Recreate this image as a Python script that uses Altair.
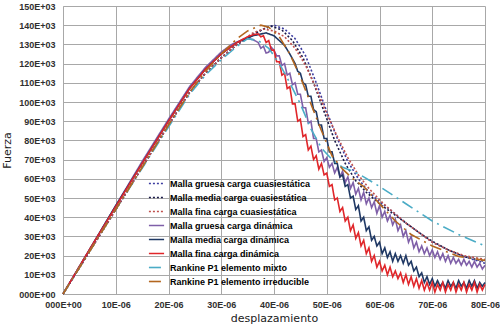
import altair as alt
import pandas as pd

# ---- data (x in 1E-06, y in 1E+03) ----
names = [
    "Malla gruesa carga cuasiestática",
    "Malla media carga cuasiestática",
    "Malla fina carga cuasiestática",
    "Malla gruesa carga dinámica",
    "Malla media carga dinámica",
    "Malla fina carga dinámica",
    "Rankine P1 elemento mixto",
    "Rankine P1 elemento irreducible",
]
colors = ["#3c3ca0", "#1a1a48", "#c0504d", "#7f5fa8", "#1f3864", "#e0262a", "#4bacc6", "#b3661e"]
dashes = [[2, 2], [2, 2], [2, 2], [1, 0], [1, 0], [1, 0], [12, 5, 2, 5], [12, 5, 2, 5]]
widths = [1.6, 1.6, 1.5, 1.3, 1.3, 1.6, 2.6, 2.6]

gc_x = [0, 5, 10, 15, 20, 24, 27, 30, 33, 36, 38, 40, 42, 44, 46, 48, 50, 52, 54, 56, 58, 60, 62, 65, 68, 70, 73, 76, 80]
gc_y = [0, 22, 44, 66, 88, 105, 115, 123, 130, 135, 138, 140, 138, 133, 124, 110, 95, 81, 69, 60, 53, 48, 44, 37, 31, 27, 23, 19.5, 16]

mc_x = [0, 5, 10, 15, 20, 24, 27, 30, 33, 36, 38, 39.5, 41.5, 43.5, 45.5, 47.5, 49.5, 51.5, 53.5, 55.5, 57.5, 60, 62, 65, 68, 70, 73, 76, 80]
mc_y = [0, 22, 44, 66, 88, 105, 115, 123, 130, 135, 138, 139.5, 137.5, 132, 123, 110, 95, 80, 68, 59, 53, 47, 43, 37, 31, 27.5, 23, 19.5, 17]

fc_x = [0, 5, 10, 15, 20, 24, 27, 30, 33, 36, 38, 40, 42, 44, 46, 48, 50, 52, 54, 56, 58, 60, 62, 65, 68, 70, 73, 76, 80]
fc_y = [0, 22, 44, 66, 88, 105, 115, 123, 130, 136, 138, 137, 134, 128, 119, 107, 94, 82, 71, 62, 55, 49, 44, 37, 31, 27, 23, 20, 18]

gd_x = [0, 5, 10, 15, 20, 24, 27, 30, 32, 34, 35, 36, 37, 37.5, 38, 38.5, 39, 39.5, 40, 40.5, 41, 41.5, 42, 42.5, 43, 43.5, 44, 44.5,
        45, 45.5, 46, 46.5, 47, 47.5, 48, 48.5, 49, 49.5, 50, 50.5, 51, 51.5, 52, 52.5, 53, 53.5, 54, 54.5, 55, 55.5,
        56, 56.5, 57, 57.5, 58, 58.5, 59, 59.5, 60, 60.5, 61, 61.5, 62, 62.5, 63, 63.5, 64, 64.5, 65, 65.5, 66, 66.5,
        67, 67.5, 68, 68.5, 69, 69.5, 70, 70.5, 71, 71.5, 72, 72.5, 73, 73.5, 74, 74.5, 75, 75.5, 76, 76.5, 77, 77.5,
        78, 78.5, 79, 79.5, 80]
gd_y = [0, 23, 46, 69, 91, 108, 118, 126, 130, 132.5, 133, 132.5, 131, 128, 129, 125.5, 126, 128.5, 127, 124, 124, 119, 120, 114, 115, 109, 110, 104,
        104, 97, 97, 89, 90, 81, 81, 74, 75, 69, 71, 66, 68, 63, 66, 61, 64, 58, 61, 55, 58, 52,
        55, 49, 53, 47, 50, 45, 48, 42, 46, 40, 43, 38, 41, 36, 39, 33, 36, 30, 33, 27, 30, 24,
        27, 22, 25, 21, 24, 20, 23, 19, 22, 18, 21, 17, 20, 16, 19, 16, 18, 15, 18, 15, 17, 14,
        17, 14, 16, 13, 15]

md_x = [0, 5, 10, 15, 20, 24, 27, 30, 33, 36, 38.5, 40, 42, 43, 44, 44.5, 45, 45.5, 46, 46.5, 47, 47.5, 48, 48.5, 49, 49.5,
        50, 50.5, 51, 51.5, 52, 52.5, 53, 53.5, 54, 54.5, 55, 55.5, 56, 56.5, 57, 57.5, 58, 58.5, 59, 59.5,
        60, 60.5, 61, 61.5, 62, 62.5, 63, 63.5, 64, 64.5, 65, 65.5, 66, 66.5, 67, 67.5, 68, 68.5, 69, 69.5,
        70, 70.5, 71, 71.5, 72, 72.5, 73, 73.5, 74, 74.5, 75, 75.5, 76, 76.5, 77, 77.5, 78, 78.5, 79, 79.5, 80]
md_y = [0, 23, 46, 68, 90, 107, 117, 125, 131, 134.5, 136, 134.5, 129.5, 125, 120, 116, 115, 110, 109, 103, 103, 96, 95, 88, 88, 81,
        81, 74, 74, 68, 68, 61, 62, 56, 57, 50, 51, 44, 46, 38, 40, 33, 35, 28, 30, 25,
        27, 21, 24, 19, 22, 17, 21, 17, 20, 16, 20, 15, 17, 12, 14, 9, 11, 6, 9, 5,
        8, 4, 7, 4, 6, 3, 7, 4, 6, 3, 7, 4, 6, 3, 7, 4, 7, 3, 6, 4, 6]

fd_x = [0, 5, 10, 15, 20, 24, 27, 30, 33, 35, 36, 37, 37.5, 38, 38.5, 39, 39.5, 40, 40.5, 41, 41.5, 42, 42.5, 43, 43.5, 44, 44.5,
        45, 45.5, 46, 46.5, 47, 47.5, 48, 48.5, 49, 49.5, 50, 50.5, 51, 51.5, 52, 52.5, 53, 53.5, 54, 54.5,
        55, 55.5, 56, 56.5, 57, 57.5, 58, 58.5, 59, 59.5, 60, 60.5, 61, 61.5, 62, 62.5, 63, 63.5, 64, 64.5,
        65, 65.5, 66, 66.5, 67, 67.5, 68, 68.5, 69, 69.5, 70, 70.5, 71, 71.5, 72, 72.5, 73, 73.5, 74, 74.5,
        75, 75.5, 76, 76.5, 77, 77.5, 78, 78.5, 79, 79.5, 80]
fd_y = [0, 23, 45.5, 68, 90, 107, 117, 125, 131, 134, 135, 135.5, 134, 134.5, 131, 132, 127, 127, 121, 121, 114, 115, 107, 108, 99, 99, 90,
        91, 82, 83, 75, 77, 70, 72, 65, 68, 62, 63, 56, 57, 49, 50, 43, 45, 38, 40, 33,
        36, 29, 32, 25, 28, 21, 24, 17, 20, 14, 17, 12, 15, 10, 14, 9, 12, 8, 11, 6,
        10, 5, 9, 4, 8, 3, 7, 2, 6, 2, 6, 1, 5, 2, 6, 1, 5, 2, 6, 1,
        5, 2, 6, 1, 5, 2, 6, 1, 5, 2, 5]

rm_x = [0, 5, 10, 15, 20, 24, 27, 30, 33, 35, 37, 39, 41, 43, 45, 47, 49, 51, 53, 55, 57, 60, 65, 70, 75, 80]
rm_y = [0, 22, 44, 65.5, 87, 104, 114, 122, 129, 133, 132, 128, 120, 110, 99, 86, 76, 70, 66, 64, 61, 56, 47, 38, 31, 25]

ri_x = [0, 5, 10, 15, 20, 24, 27, 30, 33, 35, 37.5, 39, 41, 43, 45, 47, 49, 51, 53, 55, 57, 60, 63, 66, 70, 75, 80]
ri_y = [0, 22, 44, 66, 88, 105, 116, 125, 133, 137, 140, 139, 134, 125, 113, 99, 85, 72, 65, 60, 56, 47, 38, 31, 25, 19.5, 17.5]

series_x = [gc_x, mc_x, fc_x, gd_x, md_x, fd_x, rm_x, ri_x]
series_y = [gc_y, mc_y, fc_y, gd_y, md_y, fd_y, rm_y, ri_y]

rows = []
for k, (n, xs, ys) in enumerate(zip(names, series_x, series_y)):
    for i, (xv, yv) in enumerate(zip(xs, ys)):
        rows.append({"serie": n, "x": xv, "y": yv, "i": i, "k": k})
df = pd.DataFrame(rows)

leg = alt.Legend(
    title=None, orient="none", legendX=85, legendY=169,
    symbolType="stroke", symbolSize=230, rowPadding=0,
    labelFont="Liberation Sans", labelFontWeight="bold", labelFontSize=9,
    labelColor="#000000", labelLimit=300, padding=0, labelOffset=5,
)

chart = alt.Chart(df).mark_line(interpolate="linear").encode(
    x=alt.X("x:Q", scale=alt.Scale(domain=[0, 80], nice=False),
            axis=alt.Axis(values=list(range(0, 81, 10)), title="desplazamiento", labelFlush=False,
                          labelExpr="datum.value == 0 ? '000E+00' : datum.value + 'E-06'")),
    y=alt.Y("y:Q", scale=alt.Scale(domain=[0, 150], nice=False),
            axis=alt.Axis(values=list(range(0, 151, 10)), title="Fuerza", labelFlush=False,
                          labelExpr="datum.value == 0 ? '000E+00' : datum.value + 'E+03'")),
    color=alt.Color("serie:N", scale=alt.Scale(domain=names, range=colors), legend=leg),
    strokeDash=alt.StrokeDash("serie:N", scale=alt.Scale(domain=names, range=dashes), legend=leg),
    strokeWidth=alt.StrokeWidth("serie:N", scale=alt.Scale(domain=names, range=widths), legend=leg),
    detail="serie:N",
    order="i:Q",
).properties(
    width=422, height=288,
    autosize=alt.AutoSizeParams(type="none"),
    padding={"left": 63, "top": 6, "right": 15, "bottom": 33},
).configure_view(stroke=None).configure_axis(
    grid=True, gridColor="#a8a8a8", gridWidth=1, domainColor="#a8a8a8",
    ticks=False, labelFont="Liberation Sans", labelFontWeight="bold", labelFontSize=9,
    labelColor="#303030", titleFont="DejaVu Sans", titleFontWeight="normal",
    titleFontSize=11, titleColor="#202020",
).configure_axisY(labelPadding=8, titlePadding=6).configure_axisX(labelPadding=6, titlePadding=3)

chart.save("out.html", embed_options={"renderer": "svg", "actions": False})
